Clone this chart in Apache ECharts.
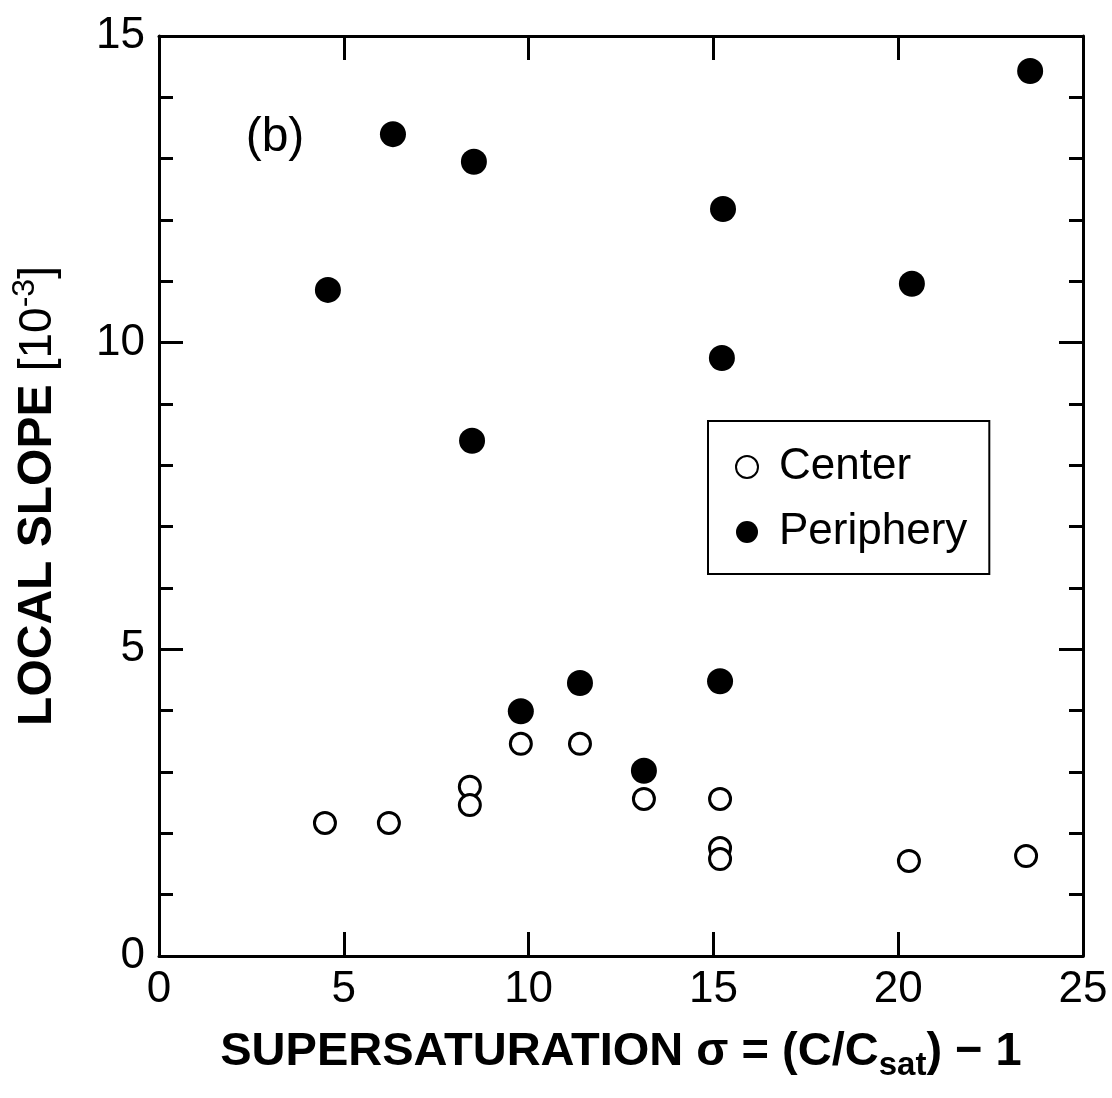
<!DOCTYPE html>
<html>
<head>
<meta charset="utf-8">
<script src="https://cdn.jsdelivr.net/npm/echarts@6/dist/echarts.min.js"></script>
<style>
html,body{margin:0;padding:0;background:#fff;}
#chart{width:1112px;height:1098px;}
</style>
</head>
<body>
<div id="chart"></div>
<script>
// ---- data ----
const seriesNames = ['Center', 'Periphery'];
const centerX = [4.49, 6.22, 8.41, 8.41, 9.79, 11.39, 13.12, 15.18, 15.18, 15.18, 20.29, 23.46];
const centerY = [2.17, 2.17, 2.76, 2.46, 3.46, 3.46, 2.56, 2.56, 1.76, 1.58, 1.55, 1.63];
const periX = [4.57, 6.33, 8.52, 8.47, 9.79, 11.39, 13.12, 15.18, 15.23, 15.26, 20.37, 23.57];
const periY = [10.86, 13.40, 12.95, 8.40, 3.99, 4.45, 3.02, 4.48, 9.75, 12.18, 10.96, 14.43];
const xTicks = [0, 5, 10, 15, 20, 25];
const yTicks = [0, 5, 10, 15];
const panelLabel = '(b)';

const FONT = '"Liberation Sans", Arial, Helvetica, sans-serif';
const black = '#000';

const chart = echarts.init(document.getElementById('chart'), null, {renderer: 'canvas'});

function pairs(xs, ys) { return xs.map((x, i) => [x, ys[i]]); }

const axisLine = {show: true, onZero: false, lineStyle: {color: black, width: 3}};
const majorTick = {show: true, inside: true, length: 24, lineStyle: {color: black, width: 3}};

const option = {
  backgroundColor: '#fff',
  animation: false,
  grid: {left: 159, top: 36, right: 29, bottom: 142, containLabel: false, show: false},
  legend: {
    show: true,
    data: seriesNames,
    orient: 'vertical',
    left: 708,
    top: 421,
    padding: [24, 22, 20, 27],
    itemGap: 21,
    itemWidth: 54,
    itemHeight: 22,
    borderColor: black,
    borderWidth: 2,
    backgroundColor: '#fff',
    icon: 'circle',
    textStyle: {color: black, fontSize: 44, fontFamily: FONT}
  },
  xAxis: [
    {
      type: 'value', position: 'bottom', min: xTicks[0], max: xTicks[xTicks.length - 1], interval: 5,
      axisLine: axisLine, axisTick: majorTick, splitLine: {show: false},
      axisLabel: {show: true, margin: 12, color: black, fontSize: 44, fontFamily: FONT},
      name: '{b|SUPERSATURATION σ = (C/C}{s|sat}{b|) − 1}',
      nameLocation: 'middle', nameGap: 66,
      nameTextStyle: {
        rich: {
          b: {fontSize: 47, fontWeight: 'bold', fontFamily: FONT, color: black, lineHeight: 60, verticalAlign: 'middle'},
          s: {fontSize: 33, fontWeight: 'bold', fontFamily: FONT, color: black, lineHeight: 33, verticalAlign: 'bottom'}
        }
      }
    },
    {
      type: 'value', position: 'top', min: xTicks[0], max: xTicks[xTicks.length - 1], interval: 5,
      axisLine: axisLine, axisTick: majorTick, splitLine: {show: false}, axisLabel: {show: false}
    }
  ],
  yAxis: [
    {
      type: 'value', position: 'left', min: yTicks[0], max: yTicks[yTicks.length - 1], interval: 5,
      axisLine: axisLine, axisTick: majorTick, splitLine: {show: false},
      minorTick: {show: true, splitNumber: 5, length: 14, lineStyle: {color: black, width: 3}},
      minorSplitLine: {show: false},
      axisLabel: {show: true, margin: 14, color: black, fontSize: 44, fontFamily: FONT},
      name: '{b|LOCAL SLOPE }{r|[10}{sup|-3}{r|]}',
      nameLocation: 'middle', nameRotate: 90, nameGap: 92,
      nameTextStyle: {
        rich: {
          b: {fontSize: 48, fontWeight: 'bold', fontFamily: FONT, color: black, lineHeight: 58, verticalAlign: 'middle'},
          r: {fontSize: 46, fontFamily: FONT, color: black, lineHeight: 58, verticalAlign: 'middle'},
          sup: {fontSize: 32, fontFamily: FONT, color: black, lineHeight: 32, verticalAlign: 'top'}
        }
      }
    },
    {
      type: 'value', position: 'right', min: yTicks[0], max: yTicks[yTicks.length - 1], interval: 5,
      axisLine: axisLine, axisTick: majorTick, splitLine: {show: false},
      minorTick: {show: true, splitNumber: 5, length: 14, lineStyle: {color: black, width: 3}},
      minorSplitLine: {show: false},
      axisLabel: {show: false}
    }
  ],
  graphic: [
    {
      type: 'text', x: 275, y: 138,
      style: {text: panelLabel, fill: black, fontSize: 48, fontFamily: FONT, align: 'center', verticalAlign: 'middle'}
    }
  ],
  series: [
    {
      name: seriesNames[0], type: 'scatter', xAxisIndex: 0, yAxisIndex: 0,
      symbol: 'circle', symbolSize: 21,
      itemStyle: {color: '#fff', borderColor: black, borderWidth: 3, opacity: 1},
      data: pairs(centerX, centerY), z: 3
    },
    {
      name: seriesNames[1], type: 'scatter', xAxisIndex: 0, yAxisIndex: 0,
      symbol: 'circle', symbolSize: 26,
      itemStyle: {color: black, borderWidth: 0, opacity: 1},
      data: pairs(periX, periY), z: 4
    }
  ]
};

chart.setOption(option);
</script>
</body>
</html>
